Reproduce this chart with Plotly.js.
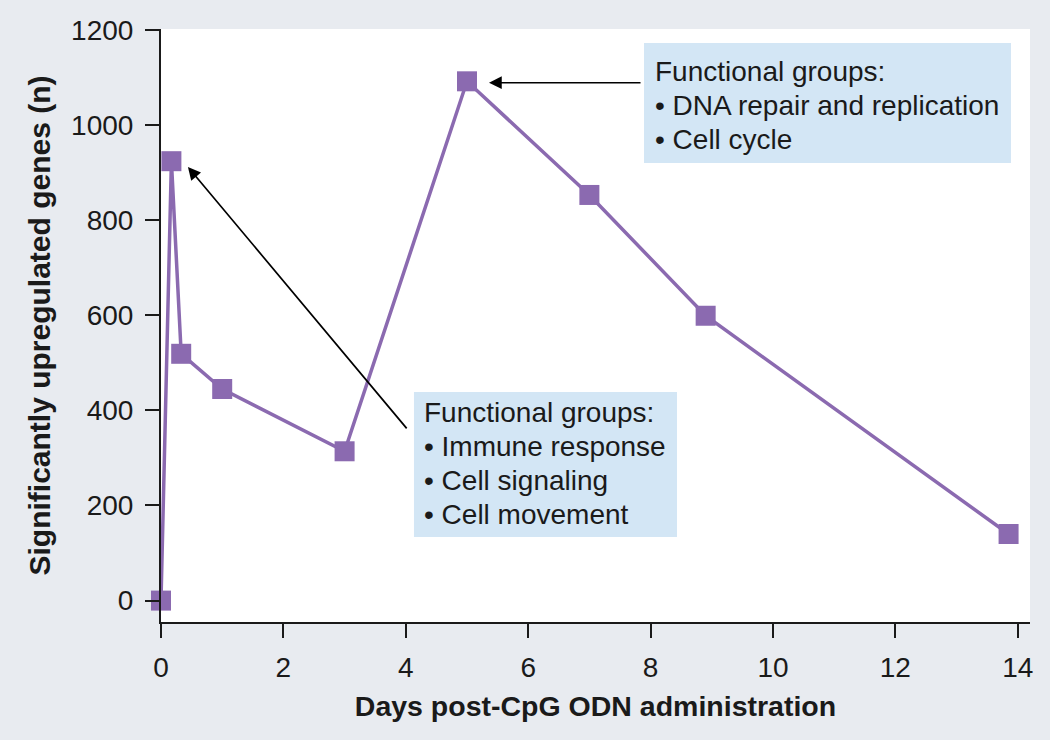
<!DOCTYPE html>
<html>
<head>
<meta charset="utf-8">
<script src="https://cdn.plot.ly/plotly-3.0.1.min.js"></script>
<style>html,body{margin:0;padding:0;background:#e8ebf0;}#chart{width:1050px;height:740px;}</style>
</head>
<body>
<div id="chart"></div>
<script>
// Data
const days = [0, 0.17, 0.33, 1, 3, 5, 7, 8.9, 13.85];
const upregulatedGenes = [0, 924, 519, 445, 314, 1092, 853, 599, 140];
const yTickValues = [0, 200, 400, 600, 800, 1000, 1200];
const xTickValues = [0, 2, 4, 6, 8, 10, 12, 14];
const earlyGroups = ["Functional groups:", "• Immune response", "• Cell signaling", "• Cell movement"];
const lateGroups = ["Functional groups:", "• DNA repair and replication", "• Cell cycle"];

const FONT = "'Liberation Sans', Arial, Helvetica, sans-serif";
const purple = "#8b6ab0";
const boxBlue = "#d3e6f5";
const ink = "#1a1a1a";

const trace = {
  x: days,
  y: upregulatedGenes,
  type: "scatter",
  mode: "lines+markers",
  line: {color: purple, width: 3.5},
  marker: {symbol: "square", size: 20, color: purple, line: {width: 0}},
  cliponaxis: false,
  hoverinfo: "x+y"
};

// helper: text lines as separate annotations in paper coordinates
function lineAnnotations(lines, x, yTop, step) {
  return lines.map((t, i) => ({
    xref: "paper", yref: "paper", x: x, y: yTop - i * step,
    xanchor: "left", yanchor: "middle", align: "left",
    text: t, showarrow: false, borderpad: 0,
    font: {family: FONT, size: 28, color: ink}
  }));
}
const lineStep = 34 / 593;

const layout = {
  width: 1050,
  height: 740,
  paper_bgcolor: "#e8ebf0",
  plot_bgcolor: "#ffffff",
  margin: {l: 161, r: 20, t: 29, b: 118},
  showlegend: false,
  font: {family: FONT, color: ink, size: 28},
  xaxis: {
    range: [0, 14.2],
    tickvals: xTickValues,
    ticks: "outside",
    ticklen: 14,
    tickwidth: 2,
    tickcolor: ink,
    showline: true,
    linecolor: ink,
    linewidth: 2,
    showgrid: false,
    zeroline: false,
    ticklabelstandoff: 5,
    tickfont: {family: FONT, size: 28, color: ink},
    title: {text: "<b>Days post-CpG ODN administration</b>", font: {family: FONT, size: 28.5, color: ink}, standoff: 14}
  },
  yaxis: {
    range: [-45, 1202],
    tickvals: yTickValues,
    ticks: "outside",
    ticklen: 14,
    tickwidth: 2,
    tickcolor: ink,
    showline: true,
    linecolor: ink,
    linewidth: 2,
    showgrid: false,
    zeroline: false,
    ticklabelstandoff: 6,
    tickfont: {family: FONT, size: 28, color: ink},
    title: {text: "<b>Significantly upregulated genes (n)</b>", font: {family: FONT, size: 30, color: ink}, standoff: 12}
  },
  shapes: [
    {type: "rect", xref: "paper", yref: "paper", x0: 0.5558, x1: 0.9781, y0: 0.7740, y1: 0.9764,
     fillcolor: boxBlue, line: {width: 0}, layer: "above"},
    {type: "rect", xref: "paper", yref: "paper", x0: 0.2911, x1: 0.5938, y0: 0.1433, y1: 0.3879,
     fillcolor: boxBlue, line: {width: 0}, layer: "above"}
  ],
  annotations: [
    ...lineAnnotations(lateGroups, 0.5673, 0.9275, lineStep),
    ...lineAnnotations(earlyGroups, 0.3015, 0.3541, lineStep),
    {xref: "x", yref: "y", x: 0.44, y: 912, ax: 220, ay: 263, text: "", showarrow: true,
     arrowhead: 2, arrowsize: 1.5, arrowwidth: 1.7, arrowcolor: "#000000", standoff: 0},
    {xref: "x", yref: "y", x: 5.36, y: 1089, ax: 153, ay: 0, text: "", showarrow: true,
     arrowhead: 2, arrowsize: 1.5, arrowwidth: 1.7, arrowcolor: "#000000", standoff: 0}
  ]
};

Plotly.newPlot("chart", [trace], layout, {displayModeBar: false, staticPlot: true});
</script>
</body>
</html>
